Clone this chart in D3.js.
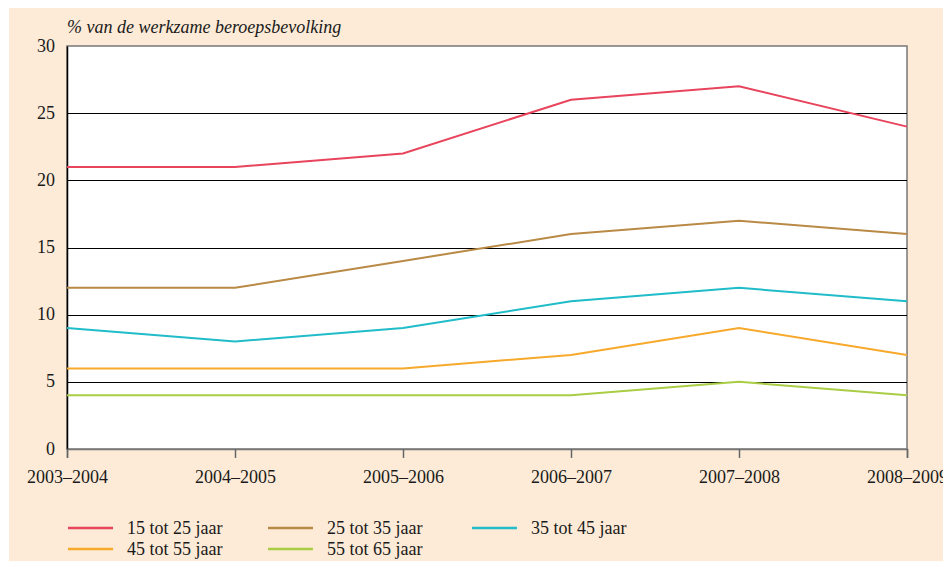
<!DOCTYPE html>
<head>
  <meta charset="utf-8" />
  <title>Werkzame beroepsbevolking naar leeftijd</title>
  <style>
    body { margin: 0; background: #fff; }
    svg { display: block; }
    text { font-family: "Liberation Serif", "DejaVu Serif", serif; fill: #1a1a1a; }
  </style>
</head>
<body>
  <script src="https://cdn.jsdelivr.net/npm/d3@7"></script>
  <script>
    // data
    var periods = ["2003–2004", "2004–2005", "2005–2006", "2006–2007", "2007–2008", "2008–2009"];
    var seriesNames = ["15 tot 25 jaar", "25 tot 35 jaar", "35 tot 45 jaar", "45 tot 55 jaar", "55 tot 65 jaar"];
    var age15to25 = [21, 21, 22, 26, 27, 24];
    var age25to35 = [12, 12, 14, 16, 17, 16];
    var age35to45 = [9, 8, 9, 11, 12, 11];
    var age45to55 = [6, 6, 6, 7, 9, 7];
    var age55to65 = [4, 4, 4, 4, 5, 4];
    var yTicks = [0, 5, 10, 15, 20, 25, 30];
    var colors = ["#e8445c", "#b98a45", "#20bcc9", "#f7a92c", "#a9cd45"];

    var series = [age15to25, age25to35, age35to45, age45to55, age55to65];

    var width = 943, height = 561;
    var svg = d3.select("body").append("svg")
      .attr("width", width).attr("height", height);

    // beige panel
    svg.append("rect")
      .attr("x", 9).attr("y", 8)
      .attr("width", width - 9).attr("height", height - 8)
      .attr("fill", "#fdebd7");

    var x = d3.scalePoint().domain(periods).range([67, 907]);
    var y = d3.scaleLinear().domain([0, 30]).range([449, 46]);

    // plot area
    svg.append("rect")
      .attr("x", 67).attr("y", 46)
      .attr("width", 840).attr("height", 403)
      .attr("fill", "#fff")
      .attr("stroke", "#777").attr("stroke-width", 1.5);

    // gridlines
    svg.append("g").selectAll("line")
      .data(yTicks.filter(function (d) { return d > 0 && d < 30; }))
      .enter().append("line")
      .attr("x1", 67).attr("x2", 907)
      .attr("y1", function (d) { return Math.round(y(d)) + 0.5; })
      .attr("y2", function (d) { return Math.round(y(d)) + 0.5; })
      .attr("stroke", "#000").attr("stroke-width", 1);

    // y axis
    var yAxis = svg.append("g")
      .attr("transform", "translate(67,0)")
      .call(d3.axisLeft(y).tickValues(yTicks).tickSize(0).tickPadding(12));
    yAxis.select(".domain").attr("stroke", "#000").attr("stroke-width", 1.5);
    yAxis.selectAll("text")
      .attr("font-size", 18).attr("font-family", "Liberation Serif").attr("fill", "#1a1a1a")
      .attr("dy", "0.28em");

    // x axis
    var xAxis = svg.append("g")
      .attr("transform", "translate(0,449)")
      .call(d3.axisBottom(x).tickSize(9).tickPadding(12));
    xAxis.select(".domain").attr("stroke", "#777").attr("stroke-width", 1.5);
    xAxis.selectAll("line").attr("stroke", "#666").attr("stroke-width", 1.5);
    xAxis.selectAll("text")
      .attr("font-size", 18).attr("font-family", "Liberation Serif").attr("fill", "#1a1a1a");

    // unit label
    svg.append("text")
      .attr("x", 67).attr("y", 33)
      .attr("font-size", 18).attr("font-style", "italic")
      .text("% van de werkzame beroepsbevolking");

    // lines
    var line = d3.line()
      .x(function (d, i) { return x(periods[i]); })
      .y(function (d) { return y(d); });

    svg.append("g").selectAll("path")
      .data(series)
      .enter().append("path")
      .attr("d", line)
      .attr("fill", "none")
      .attr("stroke", function (d, i) { return colors[i]; })
      .attr("stroke-width", 2);

    // legend
    var legendCols = [68, 268, 472];
    var legendRows = [528, 549];
    var leg = svg.append("g").selectAll("g")
      .data(seriesNames)
      .enter().append("g")
      .attr("transform", function (d, i) {
        return "translate(" + legendCols[i % 3] + "," + legendRows[Math.floor(i / 3)] + ")";
      });
    leg.append("line")
      .attr("x1", 0).attr("x2", 45)
      .attr("stroke", function (d, i) { return colors[i]; })
      .attr("stroke-width", 2.5);
    leg.append("text")
      .attr("x", 59).attr("y", 6)
      .attr("font-size", 18)
      .text(function (d) { return d; });
  </script>
</body>
